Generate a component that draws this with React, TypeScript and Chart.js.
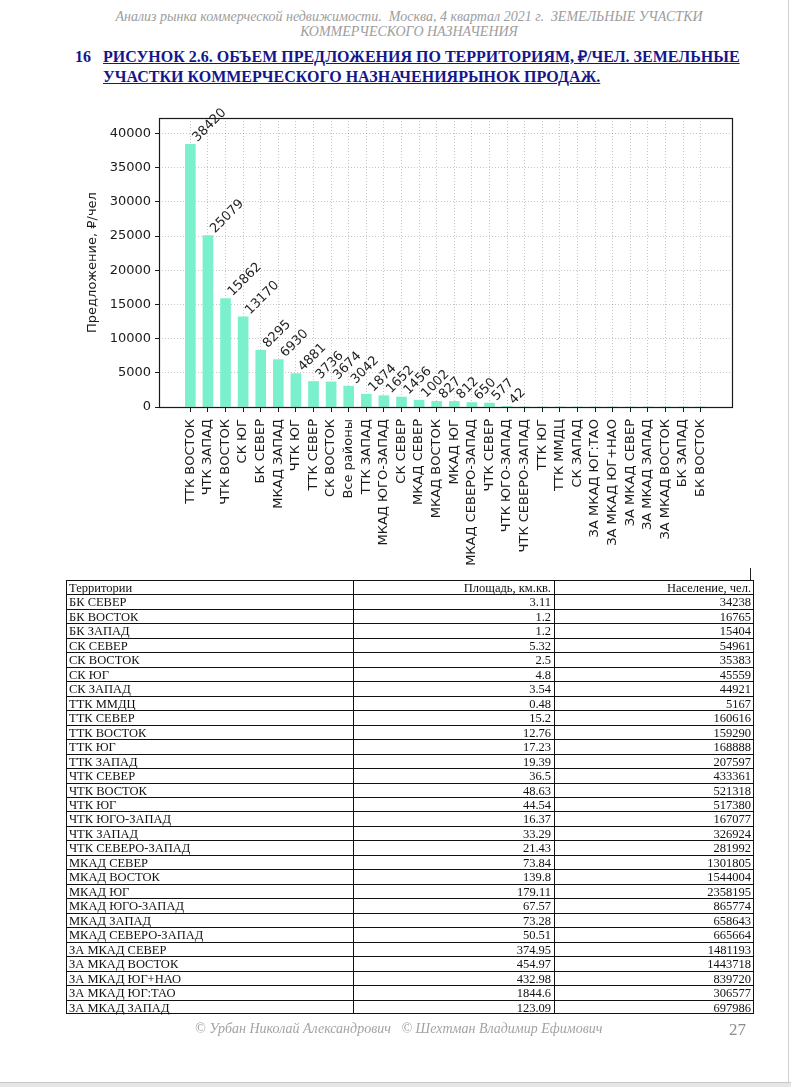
import React, { useEffect, useRef } from "react";
import { Chart, registerables } from "chart.js";

Chart.register(...registerables);

// ---------- chart data ----------
const categories = [
  "ТТК ВОСТОК", "ЧТК ЗАПАД", "ЧТК ВОСТОК", "СК ЮГ", "БК СЕВЕР", "МКАД ЗАПАД",
  "ЧТК ЮГ", "ТТК СЕВЕР", "СК ВОСТОК", "Все районы", "ТТК ЗАПАД", "МКАД ЮГО-ЗАПАД",
  "СК СЕВЕР", "МКАД СЕВЕР", "МКАД ВОСТОК", "МКАД ЮГ", "МКАД СЕВЕРО-ЗАПАД", "ЧТК СЕВЕР",
  "ЧТК ЮГО-ЗАПАД", "ЧТК СЕВЕРО-ЗАПАД", "ТТК ЮГ", "ТТК ММДЦ", "СК ЗАПАД",
  "ЗА МКАД ЮГ:ТАО", "ЗА МКАД ЮГ+НАО", "ЗА МКАД СЕВЕР", "ЗА МКАД ЗАПАД",
  "ЗА МКАД ВОСТОК", "БК ЗАПАД", "БК ВОСТОК",
];
const offerPerCapita = [
  38420, 25079, 15862, 13170, 8295, 6930, 4881, 3736, 3674, 3042, 1874, 1652,
  1456, 1002, 827, 812, 650, 577, 42, 0, 0, 0, 0, 0, 0, 0, 0, 0, 0, 0,
];
const yTickValues = [0, 5000, 10000, 15000, 20000, 25000, 30000, 35000, 40000];
const yMax = 42262;
const yTitle = "Предложение, ₽/чел";

// ---------- table data ----------
const tableHeader = ["Территории", "Площадь, км.кв.", "Население, чел."];
const territories = [
  "БК СЕВЕР", "БК ВОСТОК", "БК ЗАПАД", "СК СЕВЕР", "СК ВОСТОК", "СК ЮГ", "СК ЗАПАД",
  "ТТК ММДЦ", "ТТК СЕВЕР", "ТТК ВОСТОК", "ТТК ЮГ", "ТТК ЗАПАД", "ЧТК СЕВЕР",
  "ЧТК ВОСТОК", "ЧТК ЮГ", "ЧТК ЮГО-ЗАПАД", "ЧТК ЗАПАД", "ЧТК СЕВЕРО-ЗАПАД",
  "МКАД СЕВЕР", "МКАД ВОСТОК", "МКАД ЮГ", "МКАД ЮГО-ЗАПАД", "МКАД ЗАПАД",
  "МКАД СЕВЕРО-ЗАПАД", "ЗА МКАД СЕВЕР", "ЗА МКАД ВОСТОК", "ЗА МКАД ЮГ+НАО",
  "ЗА МКАД ЮГ:ТАО", "ЗА МКАД ЗАПАД",
];
const areas = [
  "3.11", "1.2", "1.2", "5.32", "2.5", "4.8", "3.54", "0.48", "15.2", "12.76",
  "17.23", "19.39", "36.5", "48.63", "44.54", "16.37", "33.29", "21.43", "73.84",
  "139.8", "179.11", "67.57", "73.28", "50.51", "374.95", "454.97", "432.98",
  "1844.6", "123.09",
];
const populations = [
  "34238", "16765", "15404", "54961", "35383", "45559", "44921", "5167", "160616",
  "159290", "168888", "207597", "433361", "521318", "517380", "167077", "326924",
  "281992", "1301805", "1544004", "2358195", "865774", "658643", "665664",
  "1481193", "1443718", "839720", "306577", "697986",
];

const FONT = "'DejaVu Sans', sans-serif";

const overlayPlugin = {
  id: "overlay",
  afterDatasetsDraw(chart: any) {
    const ctx = chart.ctx;
    const meta = chart.getDatasetMeta(0);
    ctx.save();
    ctx.font = "13px 'DejaVu Sans'";
    ctx.fillStyle = "#1e1e1e";
    ctx.textAlign = "left";
    ctx.textBaseline = "alphabetic";
    meta.data.forEach((bar: any, i: number) => {
      const v = offerPerCapita[i];
      if (!v) return;
      const { x, y } = bar.getProps(["x", "y"], true);
      ctx.save();
      ctx.translate(x + 7, y - 2);
      ctx.rotate(-Math.PI / 4);
      ctx.fillText(String(v), 0, 0);
      ctx.restore();
    });
    const a = chart.chartArea;
    ctx.strokeStyle = "#1a1a1a";
    ctx.lineWidth = 1.2;
    ctx.strokeRect(
      Math.round(a.left) + 0.5,
      Math.round(a.top) + 0.5,
      Math.round(a.right - a.left),
      Math.round(a.bottom - a.top)
    );
    ctx.restore();
  },
};

function BarChart() {
  const ref = useRef<HTMLCanvasElement | null>(null);
  useEffect(() => {
    if (!ref.current) return;
    const chart = new Chart(ref.current, {
      type: "bar",
      data: {
        datasets: [
          {
            data: offerPerCapita.map((v, i) => ({ x: i, y: v })),
            backgroundColor: "rgb(122, 240, 204)",
            borderWidth: 0,
            barThickness: 10,
          },
        ],
      },
      options: {
        animation: false,
        responsive: false,
        events: [],
        layout: { padding: { left: 0, top: 18, right: 28, bottom: 0 } },
        plugins: { legend: { display: false }, tooltip: { enabled: false } },
        scales: {
          x: {
            type: "linear",
            min: -1.78,
            max: 30.78,
            offset: false,
            afterBuildTicks: (scale: any) => {
              scale.ticks = categories.map((_, i) => ({ value: i }));
            },
            afterFit: (scale: any) => {
              scale.height = 163;
            },
            grid: {
              offset: false,
              color: "rgba(0,0,0,0.22)",
              lineWidth: 1,
              drawTicks: true,
              tickLength: 5,
              tickColor: "#1a1a1a",
              tickWidth: 1,
            },
            border: { display: false, dash: [1, 2] },
            ticks: {
              autoSkip: false,
              minRotation: 90,
              maxRotation: 90,
              padding: 7,
              color: "#1a1a1a",
              font: { family: FONT, size: 13 },
              callback: (v: any) => categories[Math.round(Number(v))] ?? "",
            },
          },
          y: {
            min: 0,
            max: yMax,
            afterBuildTicks: (scale: any) => {
              scale.ticks = yTickValues.map((v) => ({ value: v }));
            },
            afterFit: (scale: any) => {
              scale.width = 99;
            },
            grid: {
              color: "rgba(0,0,0,0.22)",
              lineWidth: 1,
              drawTicks: true,
              tickLength: 4,
              tickColor: "#1a1a1a",
              tickWidth: 1,
            },
            border: { display: false, dash: [1, 2] },
            ticks: {
              padding: 4,
              color: "#1a1a1a",
              font: { family: FONT, size: 13 },
              callback: (v: any) => String(v),
            },
            title: {
              display: true,
              text: yTitle,
              color: "#1a1a1a",
              font: { family: FONT, size: 13 },
              padding: { top: 25, bottom: 0 },
            },
          },
        },
      },
      plugins: [overlayPlugin],
    } as any);
    return () => chart.destroy();
  }, []);
  return (
    <canvas
      ref={ref}
      width={700}
      height={470}
      style={{ position: "absolute", left: 60, top: 100, width: 700, height: 470, display: "block" }}
    />
  );
}

const serif = "'Liberation Serif', 'Times New Roman', serif";
const ROW_H = 434 / 30;

export default function App() {
  const rows = [tableHeader, ...territories.map((t, i) => [t, areas[i], populations[i]])];
  const colX = [66, 353, 554, 754];
  return (
    <div
      style={{
        position: "absolute",
        left: 0,
        top: 0,
        width: 791,
        height: 1087,
        background: "#fff",
        overflow: "hidden",
        fontFamily: serif,
      }}
    >
      {/* running header */}
      <div
        style={{
          position: "absolute",
          left: 109,
          top: 9,
          width: 600,
          textAlign: "center",
          fontStyle: "italic",
          fontSize: 14,
          lineHeight: "15px",
          color: "#9d9d9d",
          whiteSpace: "nowrap",
        }}
      >
        Анализ рынка коммерческой недвижимости.&nbsp; Москва, 4 квартал 2021 г.&nbsp; ЗЕМЕЛЬНЫЕ УЧАСТКИ
        <br />
        КОММЕРЧЕСКОГО НАЗНАЧЕНИЯ
      </div>

      {/* figure title */}
      <div
        style={{
          position: "absolute",
          left: 75,
          top: 47,
          fontWeight: "bold",
          fontSize: 16,
          lineHeight: "20px",
          color: "#16168c",
        }}
      >
        16
      </div>
      <div
        style={{
          position: "absolute",
          left: 103,
          top: 47,
          width: 660,
          fontWeight: "bold",
          fontSize: 16,
          lineHeight: "20px",
          color: "#16168c",
          textDecoration: "underline",
          whiteSpace: "nowrap",
        }}
      >
        РИСУНОК 2.6. ОБЪЕМ ПРЕДЛОЖЕНИЯ ПО ТЕРРИТОРИЯМ, ₽/ЧЕЛ. ЗЕМЕЛЬНЫЕ
        <br />
        УЧАСТКИ КОММЕРЧЕСКОГО НАЗНАЧЕНИЯРЫНОК ПРОДАЖ.
      </div>

      <BarChart />

      {/* small mark above table */}
      <div style={{ position: "absolute", left: 750, top: 568, width: 1, height: 12, background: "#222" }} />

      {/* table */}
      <div
        style={{
          position: "absolute",
          left: colX[0],
          top: 580,
          width: colX[3] - colX[0],
          height: ROW_H * rows.length,
          border: "1px solid #111",
          boxSizing: "border-box",
        }}
      />
      {rows.map((r, ri) => (
        <React.Fragment key={ri}>
          {ri > 0 && (
            <div
              style={{
                position: "absolute",
                left: colX[0],
                top: Math.round(580 + ri * ROW_H),
                width: colX[3] - colX[0],
                height: 1,
                background: "#111",
              }}
            />
          )}
          {r.map((cell, ci) => (
            <div
              key={ci}
              style={{
                position: "absolute",
                left: colX[ci] + 3,
                width: colX[ci + 1] - colX[ci] - 6,
                top: 580 + ri * ROW_H,
                height: ROW_H,
                lineHeight: ROW_H + 2 + "px",
                fontSize: 12.5,
                color: "#111",
                textAlign: ci === 0 ? "left" : "right",
                whiteSpace: "nowrap",
              }}
            >
              {cell}
            </div>
          ))}
        </React.Fragment>
      ))}
      {[1, 2].map((c) => (
        <div
          key={c}
          style={{
            position: "absolute",
            left: colX[c],
            top: 580,
            width: 1,
            height: ROW_H * rows.length,
            background: "#111",
          }}
        />
      ))}

      {/* footer */}
      <div
        style={{
          position: "absolute",
          left: 195,
          top: 1021,
          fontStyle: "italic",
          fontSize: 14,
          lineHeight: "16px",
          color: "#a3a3a3",
          whiteSpace: "pre",
        }}
      >
        {"© Урбан Николай Александрович   © Шехтман Владимир Ефимович"}
      </div>
      <div
        style={{
          position: "absolute",
          left: 729,
          top: 1020,
          fontSize: 17,
          lineHeight: "20px",
          color: "#8c8c8c",
        }}
      >
        27
      </div>

      {/* page edge */}
      <div style={{ position: "absolute", left: 0, top: 1082, width: 791, height: 5, background: "#e6e6e6", borderTop: "1px solid #c8c8c8" }} />
      <div style={{ position: "absolute", left: 788, top: 0, width: 1, height: 1083, background: "#d0d0d0" }} />
    </div>
  );
}
